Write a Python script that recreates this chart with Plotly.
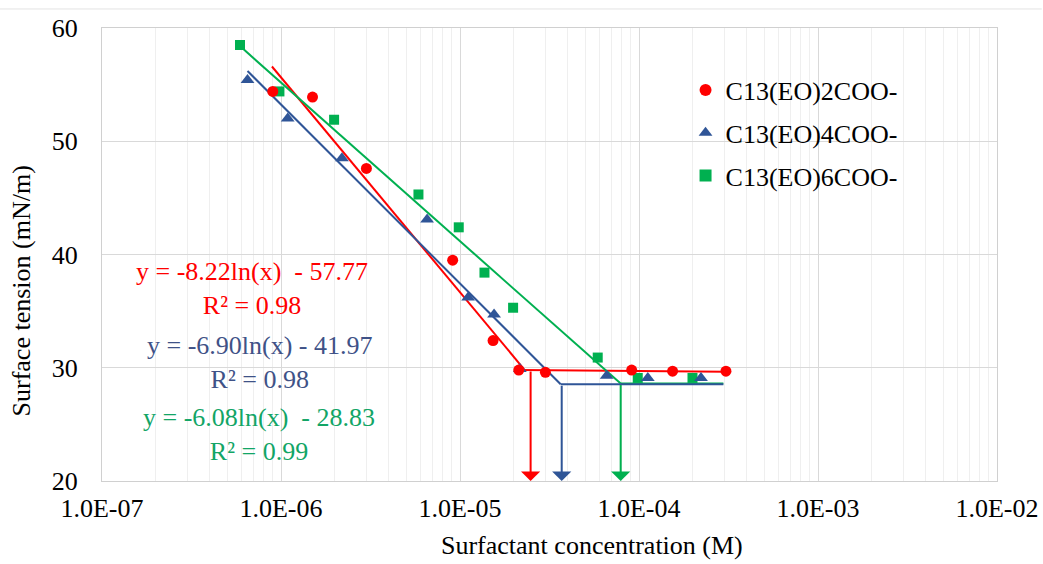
import math
import plotly.graph_objects as go

# ---------------- data ----------------
series_names = ["C13(EO)2COO-", "C13(EO)4COO-", "C13(EO)6COO-"]

conc_eo2 = [9.0e-7, 1.5e-6, 3.0e-6, 9.1e-6, 1.53e-5, 2.13e-5, 3.0e-5, 9.1e-5, 1.54e-4, 3.06e-4]
st_eo2 = [54.4, 53.9, 47.6, 39.5, 32.4, 29.8, 29.6, 29.8, 29.7, 29.7]

conc_eo4 = [6.5e-7, 1.09e-6, 2.19e-6, 6.55e-6, 1.11e-5, 1.55e-5, 2.16e-5, 6.6e-5, 1.12e-4, 2.22e-4]
st_eo4 = [55.4, 52.0, 48.5, 43.1, 36.2, 34.7, 29.9, 29.3, 29.1, 29.1]

conc_eo6 = [5.9e-7, 9.8e-7, 1.98e-6, 5.86e-6, 9.84e-6, 1.37e-5, 1.98e-5, 5.88e-5, 9.84e-5, 1.99e-4]
st_eo6 = [58.5, 54.4, 51.9, 45.3, 42.4, 38.4, 35.3, 30.9, 29.1, 29.1]

# fitted (log-linear) segments and plateaus as drawn
fit_eo2_x = [8.9e-7, 2.3e-5]
fit_eo2_y = [56.6, 29.8]
fit_eo4_x = [6.5e-7, 3.65e-5]
fit_eo4_y = [56.2, 28.55]
fit_eo6_x = [5.9e-7, 7.9e-5]
fit_eo6_y = [58.4, 28.6]

plateau_eo2_x = [2.2e-5, 3.06e-4]
plateau_eo2_y = [29.8, 29.65]
plateau_eo4_x = [3.65e-5, 2.96e-4]
plateau_eo4_y = [28.55, 28.55]
plateau_eo6_x = [7.9e-5, 2.96e-4]
plateau_eo6_y = [28.6, 28.6]

cmc_x = [2.48e-5, 3.7e-5, 7.9e-5]
cmc_top = [29.8, 28.55, 28.6]
y_floor = 20

equations = ["y = -8.22ln(x)  - 57.77<br>R² = 0.98",
             "y = -6.90ln(x) - 41.97<br>R² = 0.98",
             "y = -6.08ln(x)  - 28.83<br>R² = 0.99"]

x_tick_vals = [1e-7, 1e-6, 1e-5, 1e-4, 1e-3, 1e-2]
x_tick_text = ["1.0E-07", "1.0E-06", "1.0E-05", "1.0E-04", "1.0E-03", "1.0E-02"]
y_tick_vals = [20, 30, 40, 50, 60]

# ---------------- styling ----------------
RED = "#FF0000"
BLUE = "#2F5597"
GREEN = "#00B050"
FONT = "Liberation Serif"
FS = 26

fig = go.Figure()

line_sets = [
    (fit_eo2_x, fit_eo2_y, plateau_eo2_x, plateau_eo2_y, RED),
    (fit_eo6_x, fit_eo6_y, plateau_eo6_x, plateau_eo6_y, GREEN),
    (fit_eo4_x, fit_eo4_y, plateau_eo4_x, plateau_eo4_y, BLUE),
]
for fx, fy, px, py, col in line_sets:
    fig.add_trace(go.Scatter(x=fx, y=fy, mode="lines", line=dict(color=col, width=2),
                             showlegend=False, hoverinfo="skip"))
    fig.add_trace(go.Scatter(x=px, y=py, mode="lines", line=dict(color=col, width=2),
                             showlegend=False, hoverinfo="skip"))

# CMC arrows (drawn with annotation arrows, tip at the axis floor)
for cx, ct, col in zip(cmc_x, cmc_top, [RED, BLUE, GREEN]):
    lx = math.log10(cx)
    fig.add_annotation(x=lx, y=y_floor, ax=lx, ay=ct, xref="x", yref="y",
                       axref="x", ayref="y", text="", showarrow=True,
                       arrowhead=1, arrowsize=1.6, arrowwidth=2, arrowcolor=col,
                       standoff=0, startstandoff=0)

# data markers
fig.add_trace(go.Scatter(x=conc_eo6, y=st_eo6, mode="markers", name=series_names[2],
                         legendgroup="c", legendrank=3,
                         marker=dict(symbol="square", size=10, color=GREEN)))
fig.add_trace(go.Scatter(x=conc_eo4, y=st_eo4, mode="markers", name=series_names[1],
                         legendgroup="b", legendrank=2,
                         marker=dict(symbol="triangle-up", size=12, color=BLUE)))
fig.add_trace(go.Scatter(x=conc_eo2, y=st_eo2, mode="markers", name=series_names[0],
                         legendgroup="a", legendrank=1,
                         marker=dict(symbol="circle", size=11, color=RED)))

# equations
eq_pos = [(0.1673, 0.426, RED), (0.1765, 0.2605, "#3F5287"), (0.1754, 0.1026, "#12A566")]
for txt, (ex, ey, col) in zip(equations, eq_pos):
    fig.add_annotation(text=txt, x=ex, y=ey, xref="paper", yref="paper",
                       showarrow=False, font=dict(family=FONT, size=FS, color=col),
                       xanchor="center", yanchor="middle", align="center")

# axis titles
fig.add_annotation(text="Surfactant concentration (M)", x=0.547, y=-0.143,
                   xref="paper", yref="paper", showarrow=False,
                   font=dict(family=FONT, size=FS, color="#000"), xanchor="center", yanchor="middle")
fig.add_annotation(text="Surface tension (mN/m)", x=-0.0897, y=0.42,
                   xref="paper", yref="paper", showarrow=False, textangle=-90,
                   font=dict(family=FONT, size=FS, color="#000"), xanchor="center", yanchor="middle")

minor_vals = [d * m for d in x_tick_vals[:-1] for m in range(2, 10)]

fig.update_layout(
    width=1043, height=564,
    margin=dict(l=102, r=46, t=28, b=83),
    paper_bgcolor="white", plot_bgcolor="white",
    font=dict(family=FONT, size=FS, color="#000"),
    legend=dict(x=0.652, y=0.915, xanchor="left", yanchor="top",
                font=dict(family=FONT, size=FS, color="#000"),
                bgcolor="rgba(255,255,255,0)", tracegroupgap=6, itemsizing="constant"),
    xaxis=dict(type="log", range=[-7, -2], tickmode="array",
               tickvals=x_tick_vals, ticktext=x_tick_text,
               showgrid=True, gridcolor="#D9D9D9", gridwidth=1,
               minor=dict(tickmode="array", tickvals=minor_vals, showgrid=True,
                          gridcolor="#EFEFEF", gridwidth=1, ticks=""),
               showline=True, linecolor="#D0D0D0", linewidth=1, mirror=True,
               ticks="", zeroline=False, ticklabelstandoff=4, automargin=False,
               tickfont=dict(family=FONT, size=FS, color="#000")),
    yaxis=dict(range=[20, 60], tickmode="array", tickvals=y_tick_vals,
               showgrid=True, gridcolor="#D9D9D9", gridwidth=1,
               showline=True, linecolor="#D0D0D0", linewidth=1, mirror=True,
               ticks="", zeroline=False, ticklabelstandoff=18, automargin=False,
               tickfont=dict(family=FONT, size=FS, color="#000")),
    shapes=[dict(type="line", xref="paper", yref="paper", x0=-0.114, x1=1.05,
                 y0=1.042, y1=1.042, line=dict(color="#E3E3E3", width=1))],
)

fig.write_html("out.html", config={"displayModeBar": False},
               post_script="document.body.style.margin='0';document.body.style.padding='0';")
